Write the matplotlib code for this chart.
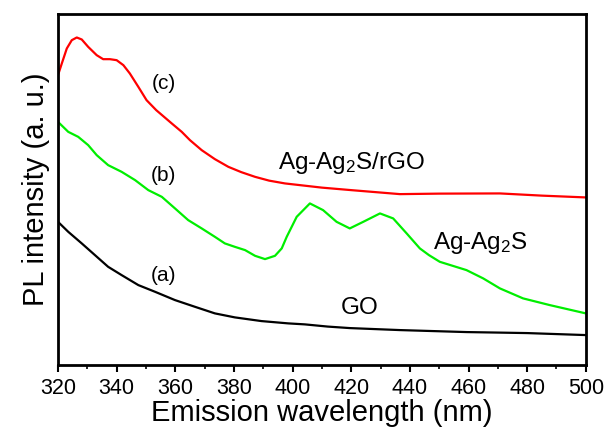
import matplotlib.pyplot as plt
from matplotlib.ticker import MultipleLocator

plt.rcParams['font.family'] = ['Liberation Sans', 'DejaVu Sans']
plt.rcParams['mathtext.fontset'] = 'custom'
plt.rcParams['mathtext.rm'] = 'Liberation Sans'
plt.rcParams['mathtext.default'] = 'regular'

# (a) GO
wl_a = [320, 323.5, 328.1, 332.6, 337.1, 341.7, 347.4, 353.1, 359.9, 366.7, 373.5,
        380.3, 389.4, 398.5, 404.2, 412, 419.5, 428, 436.6, 448, 459.4, 470, 480,
        490, 500]
pl_a = [143.3, 133.3, 121.7, 110, 98.3, 90, 80, 73.3, 65, 58.3, 51.7,
        47.7, 44, 41.7, 40.7, 38.5, 37, 36, 35, 34, 33, 32.5, 32, 31, 30]

# (b) Ag-Ag2S
wl_b = [320, 323.5, 326.9, 330.3, 333.2, 337.1, 341.7, 346.3, 350.8, 355.4, 359.9,
        364.4, 369, 373.5, 376.9, 380.3, 383.8, 387.2, 390.6, 394, 396.3, 398,
        401.4, 405.9, 410.4, 415, 419.5, 424.1, 429.8, 434.3, 438.9, 443.4, 446.5,
        450.2, 459.3, 465, 470.7, 478.6, 487.7, 500]
pl_b = [243.3, 233.3, 228.3, 220, 210, 200, 193.3, 185, 175, 168.3, 156.7,
        145, 136.7, 128.3, 121.7, 118.3, 115, 109.3, 106, 109.3, 116.7, 128.3,
        148.3, 161.7, 155, 143.3, 136.7, 143.3, 151.7, 146.7, 131.7, 116.7, 110,
        103.3, 95, 86.7, 76.7, 66.7, 60, 51.7]

# (c) Ag-Ag2S/rGO
wl_c = [320, 321.3, 323, 324.7, 326.4, 328.1, 330.3, 333.2, 335.4, 337.7, 340,
        342.3, 344.5, 347.4, 350.2, 353.5, 358.8, 362.2, 365, 369, 373.5, 378.1,
        382.5, 387.2, 392, 397.4, 402.5, 410, 420, 436.6, 450, 470.7, 485, 500]
pl_c = [290, 301.7, 316.7, 325, 327.7, 325.7, 318.3, 310, 306, 306, 305,
        300, 291.7, 278.3, 265, 255, 241.7, 233.3, 225, 215, 206, 198.3,
        193, 188.3, 184.5, 181.7, 180, 177.5, 175, 171, 171.5, 171.7, 169.5, 167.7]

fig = plt.figure(figsize=(6.06, 4.30), dpi=100)
ax = fig.add_axes([0.0957, 0.151, 0.871, 0.816])

ax.plot(wl_a, pl_a, color="black", lw=1.6)
ax.plot(wl_b, pl_b, color="#00ee00", lw=1.6)
ax.plot(wl_c, pl_c, color="#ff0000", lw=1.6)

ax.set_xlim(320, 500)
ax.set_ylim(0, 351)
ax.xaxis.set_major_locator(MultipleLocator(20))
ax.xaxis.set_minor_locator(MultipleLocator(10))
ax.set_yticks([])
ax.tick_params(axis='x', which='major', direction='out', length=5, width=1.5,
               labelsize=15.5, pad=4)
ax.tick_params(axis='x', which='minor', direction='out', length=3, width=1.2)
for s in ax.spines.values():
    s.set_linewidth(2)

ax.set_xlabel("Emission wavelength (nm)", fontsize=21, labelpad=0)
ax.set_ylabel("PL intensity (a. u.)", fontsize=21, labelpad=6)

ax.text(356, 282, "(c)", fontsize=15, ha='center', va='center')
ax.text(356, 190, "(b)", fontsize=15, ha='center', va='center')
ax.text(356, 90, "(a)", fontsize=15, ha='center', va='center')
ax.text(420, 202, "Ag-Ag$_2$S/rGO", fontsize=17.5, ha='center', va='center')
ax.text(464, 122, "Ag-Ag$_2$S", fontsize=17.5, ha='center', va='center')
ax.text(423, 57, "GO", fontsize=17.5, ha='center', va='center')

fig.savefig("out.png", dpi=100)
